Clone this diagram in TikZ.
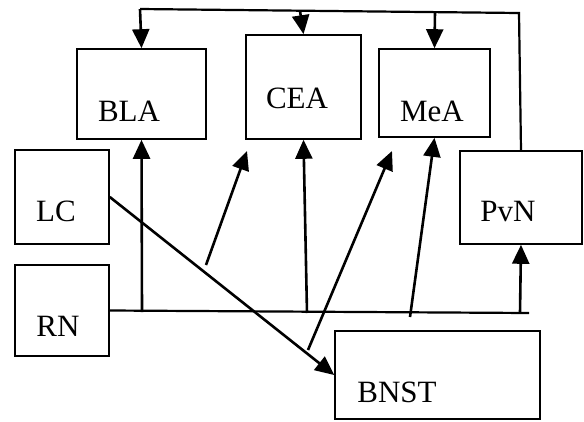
\documentclass[tikz,border=0pt]{standalone}
\usepackage{fontspec}
\setmainfont{Liberation Serif}
\usetikzlibrary{arrows.meta,fit}
\begin{document}
\begin{tikzpicture}[x=1pt,y=-1pt,
  region/.style={draw, line width=1.6pt, inner sep=0pt, rectangle},
  lbl/.style={inner sep=0pt, font=\fontsize{31}{36}\selectfont},
  wire/.style={line width=2.2pt},
  arr/.style={line width=2.6pt, -{Triangle[length=19pt,width=17pt]}}]
\useasboundingbox (0,0) rectangle (584,421);

% brain regions
\node[region, fit={(77,49) (206,139)}] (BLA) {};
\node[region, fit={(246,35) (361,139)}] (CEA) {};
\node[region, fit={(379,49) (490,137)}] (MeA) {};
\node[region, fit={(15,150) (109,244)}] (LC) {};
\node[region, fit={(15,265) (109,356)}] (RN) {};
\node[region, fit={(460,151) (582,244)}] (PvN) {};
\node[region, fit={(335,331) (540,419)}] (BNST) {};

% region names
\node[lbl] (BLAt) at (129,111) {BLA};
\node[lbl] (CEAt) at (297,98) {CEA};
\node[lbl] (MeAt) at (432,111) {MeA};
\node[lbl] (LCt) at (56,211) {LC};
\node[lbl] (RNt) at (58,326) {RN};
\node[lbl] (PvNt) at (508,211) {PvN};
\node[lbl] (BNSTt) at (397,392) {BNST};

% PvN output bus along the top
\coordinate (tl) at (140,9);
\coordinate (tr) at (519,13);
\coordinate (tc) at (300,11);
\coordinate (tm) at (435,12);
\draw[wire] (PvN.north) -- (tr) -- (tl);
\draw[arr] (tl) -- (BLA.north);
\draw[arr] (tc) -- (CEA.north);
\draw[arr] (tm) -- (MeA.north);

% RN bus along the bottom
\coordinate (re) at (529,313);
\coordinate (r1) at (142,312);
\coordinate (r2) at (307,313);
\coordinate (r3) at (410,317);
\coordinate (r4) at (520,313);
\draw[wire] (RN.east) -- (re);
\draw[arr] (r1) -- (BLA.south);
\draw[arr] (r2) -- (CEA.south);
\draw[arr] (r3) -- (MeA.south);
\draw[arr] (r4) -- (PvN.south);

% LC projection to BNST
\draw[arr] (LC.east) -- (BNST.west);

% free-standing projections
\coordinate (a1) at (206,265);
\coordinate (a2) at (247,151);
\coordinate (b1) at (308,350);
\coordinate (b2) at (392,151);
\draw[arr] (a1) -- (a2);
\draw[arr] (b1) -- (b2);
\end{tikzpicture}
\end{document}
